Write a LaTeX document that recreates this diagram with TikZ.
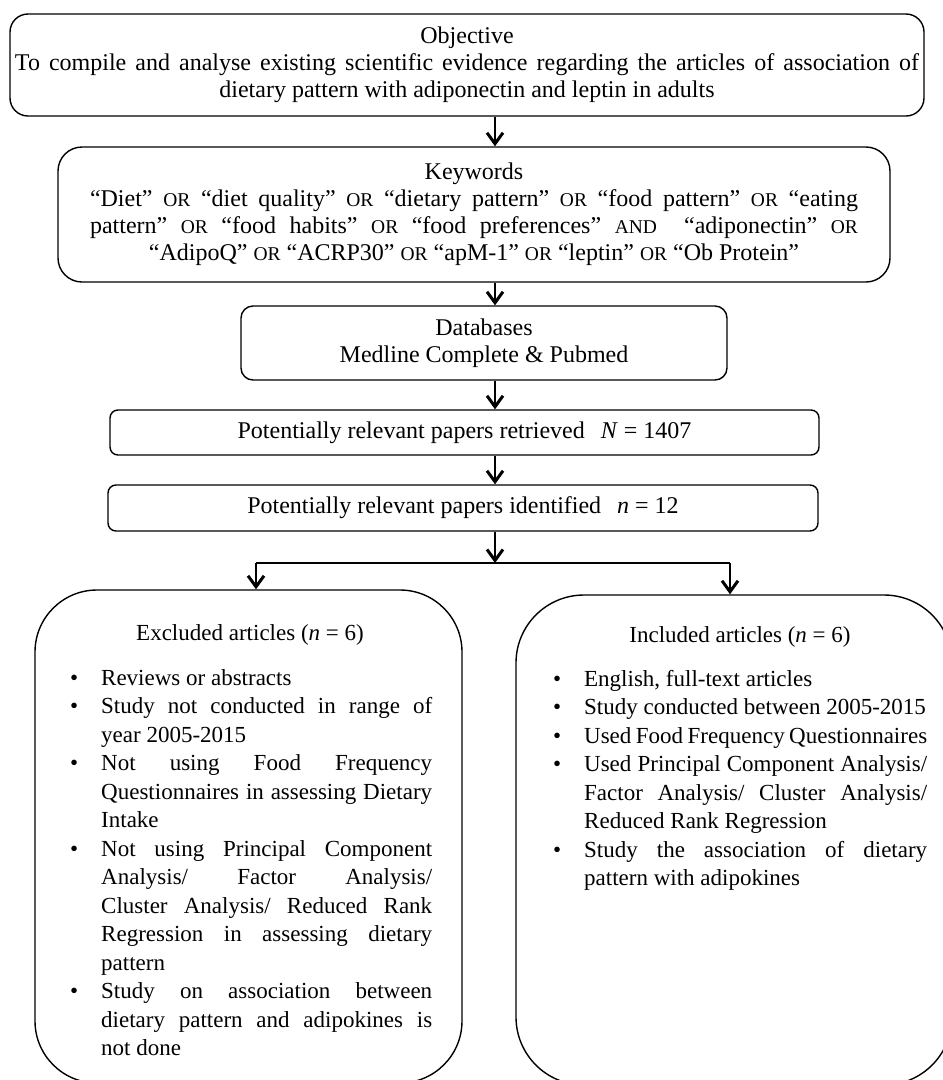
\documentclass[tikz,border=0pt]{standalone}
\usepackage{fontspec}
\setmainfont{Liberation Serif}
\usetikzlibrary{arrows.meta}
\newcommand\sOR{{\fontsize{19.5}{27}\selectfont OR}}
\newcommand\sAND{{\fontsize{19.5}{27}\selectfont AND}}
\newcommand\bitem[1]{\noindent\hangindent=31pt\hangafter=1\makebox[31pt][l]{•}#1\par}
\begin{document}
\begin{tikzpicture}[x=1pt,y=1pt,
  box/.style={draw, line width=1.4pt, inner sep=0pt, align=center, font=\fontsize{24}{27}\selectfont},
  arr/.style={line width=1.5pt, -{Straight Barb[length=11pt,width=16pt,line width=3pt]}},
  conn/.style={line width=1.5pt},
  listtext/.style={inner sep=0pt, align=justify, font=\fontsize{23}{28.5}\selectfont},
  head/.style={inner sep=0pt, font=\fontsize{23}{28.5}\selectfont}]
\useasboundingbox (0,0) rectangle (943,-1080);
\clip (0,0) rectangle (943,-1080);
\fill[white] (0,0) rectangle (943,-1080);
\coordinate (spine) at (495,0);

\node[box, rounded corners=18pt, minimum width=914pt, minimum height=102pt] (obj) at (467,-65)
  {Objective\\\makebox[904pt][s]{To compile and analyse existing scientific evidence regarding the articles of association of}\\dietary pattern with adiponectin and leptin in adults};

\node[box, rounded corners=24pt, minimum width=832pt, minimum height=135pt] (kw) at (474,-214.5)
  {Keywords\\\makebox[768pt][s]{“Diet” \sOR\ “diet quality” \sOR\ “dietary pattern” \sOR\ “food pattern” \sOR\ “eating}\\\makebox[768pt][s]{pattern” \sOR\ “food habits” \sOR\ “food preferences” \sAND\ \ “adiponectin” \sOR}\\“AdipoQ” \sOR\ “ACRP30” \sOR\ “apM-1” \sOR\ “leptin” \sOR\ “Ob Protein”};

\node[box, rounded corners=12pt, minimum width=486pt, minimum height=74pt] (db) at (484,-343)
  {Databases\\Medline Complete \& Pubmed};

\node[box, rounded corners=8pt, minimum width=709pt, minimum height=45pt] (ret) at (464.5,-432.5)
  {Potentially relevant papers retrieved\hspace{16pt}\textit{N} = 1407};

\node[box, rounded corners=8pt, minimum width=710pt, minimum height=46pt] (iden) at (463,-508)
  {Potentially relevant papers identified\hspace{16pt}\textit{n} = 12};

\node[box, rounded corners=62pt, minimum width=427pt, minimum height=493pt] (exc) at (248.5,-836.5) {};
\node[box, rounded corners=68pt, minimum width=436pt, minimum height=490pt] (inc) at (734,-840) {};

\node[head, anchor=base] (exchead) at (250,-640) {Excluded articles (\textit{n} = 6)};
\node[head, anchor=base] (inchead) at (740,-642) {Included articles (\textit{n} = 6)};

\node[listtext, anchor=base west, text width=362pt] (exclist) at (70,-685) {%
\bitem{Reviews or abstracts}
\bitem{Study not conducted in range of\linebreak year 2005-2015}
\bitem{Not using Food Frequency\linebreak Questionnaires in assessing Dietary\linebreak Intake}
\bitem{Not using Principal Component\linebreak Analysis/ Factor Analysis/\linebreak Cluster Analysis/ Reduced Rank\linebreak Regression in assessing dietary\linebreak pattern}
\bitem{Study on association between\linebreak dietary pattern and adipokines is\linebreak not done}};

\node[listtext, anchor=base west, text width=374pt] (inclist) at (553,-686) {%
\bitem{English, full-text articles}
\bitem{Study conducted between 2005-2015}
\bitem{Used Food Frequency Questionnaires}
\bitem{Used Principal Component Analysis/\linebreak Factor Analysis/ Cluster Analysis/\linebreak Reduced Rank Regression}
\bitem{Study the association of dietary\linebreak pattern with adipokines}};

\draw[arr] (obj.south -| spine) -- (kw.north -| spine);
\draw[arr] (kw.south -| spine) -- (db.north -| spine);
\draw[arr] (db.south -| spine) -- (ret.north -| spine);
\draw[arr] (ret.south -| spine) -- (iden.north -| spine);
\coordinate (split) at (495,-563);
\coordinate (sL) at (256,-563);
\coordinate (sR) at (730,-563);
\draw[arr] (iden.south -| spine) -- (split);
\draw[conn] (sL) -- (sR);
\draw[arr] (sL) -- (exc.north -| sL);
\draw[arr] (sR) -- (inc.north -| sR);
\end{tikzpicture}
\end{document}
